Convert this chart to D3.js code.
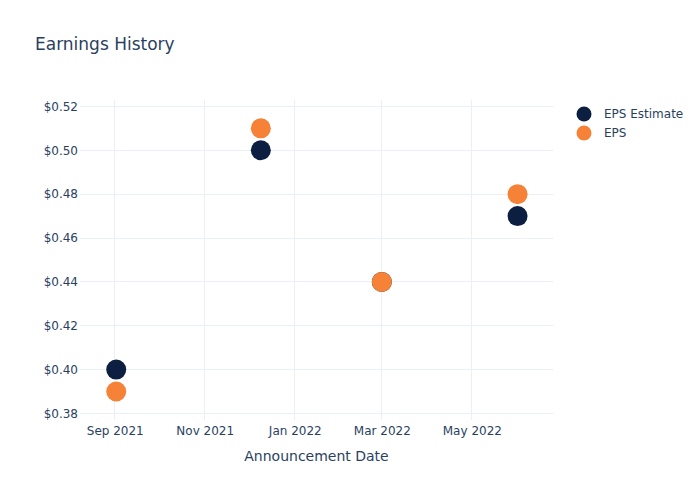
<!DOCTYPE html>
<html><head><meta charset="utf-8">
<script src="https://cdn.jsdelivr.net/npm/d3@7"></script>
<style>body{margin:0;background:#fff}svg{display:block}text{font-family:"DejaVu Sans",sans-serif;fill:#2a3f5f}</style>
</head><body><svg id="c" width="700" height="500"></svg>
<script>
const dates = ["2021-09-02","2021-12-09","2022-03-01","2022-06-01"];
const epsEstimate = [0.40, 0.50, 0.44, 0.47];
const eps = [0.39, 0.51, 0.44, 0.48];
const yTicks = [0.38,0.40,0.42,0.44,0.46,0.48,0.50,0.52];
const xTicks = ["2021-09-01","2021-11-01","2022-01-01","2022-03-01","2022-05-01"];
const seriesNames = ["EPS Estimate","EPS"];
const colors = ["#0c1f41","#f58237"];

const svg = d3.select("#c");
const L=80,R=553,T=100,B=420;
const parse = d3.utcParse("%Y-%m-%d");
const x = d3.scaleUtc().domain([new Date(Date.UTC(2021,7,8,19)), new Date(Date.UTC(2022,5,25,8))]).range([L,R]);
const y = d3.scaleLinear().domain([0.3768,0.5227]).range([B,T]);

const g = svg.append("g");
// grid
g.selectAll(".vg").data(xTicks).enter().append("line")
 .attr("x1",d=>Math.round(x(parse(d)))+0.5).attr("x2",d=>Math.round(x(parse(d)))+0.5).attr("y1",T).attr("y2",B)
 .attr("stroke","#ebf0f8").attr("stroke-width",1);
g.selectAll(".hg").data(yTicks).enter().append("line")
 .attr("x1",L).attr("x2",R).attr("y1",d=>Math.round(y(d))+0.5).attr("y2",d=>Math.round(y(d))+0.5)
 .attr("stroke","#ebf0f8").attr("stroke-width",1);

// axes via d3
const yAxis = d3.axisLeft(y).tickValues(yTicks).tickSize(0).tickPadding(2).tickFormat(d=>"$"+d3.format(".2f")(d));
const ya = svg.append("g").attr("transform",`translate(${L},0.5)`).call(yAxis);
ya.select(".domain").remove();
ya.selectAll("text").style("font-size","12px").attr("fill","#2a3f5f");

const xAxis = d3.axisBottom(x).tickValues(xTicks.map(parse)).tickSize(0).tickPadding(6).tickFormat(d3.utcFormat("%b %Y"));
const xa = svg.append("g").attr("transform",`translate(0.5,${B})`).call(xAxis);
xa.select(".domain").remove();
xa.selectAll("text").style("font-size","12px").attr("fill","#2a3f5f");

// points
const series=[epsEstimate,eps];
series.forEach((vals,si)=>{
  svg.append("g").selectAll("circle").data(vals).enter().append("circle")
   .attr("cx",(d,i)=>x(parse(dates[i]))+0.5).attr("cy",d=>y(d)+0.5).attr("r",10)
   .attr("fill",colors[si]);
});

// title
svg.append("text").attr("x",35).attr("y",50).style("font-size","17px").text("Earnings History");
svg.append("text").attr("x",(L+R)/2).attr("y",461).attr("text-anchor","middle").style("font-size","14px").text("Announcement Date");

// legend
seriesNames.forEach((n,i)=>{
  const yy=114+i*19;
  svg.append("circle").attr("cx",584).attr("cy",yy).attr("r",7.5).attr("fill",colors[i]);
  svg.append("text").attr("x",604).attr("y",yy+4).style("font-size","12px").text(n);
});
</script></body></html>
